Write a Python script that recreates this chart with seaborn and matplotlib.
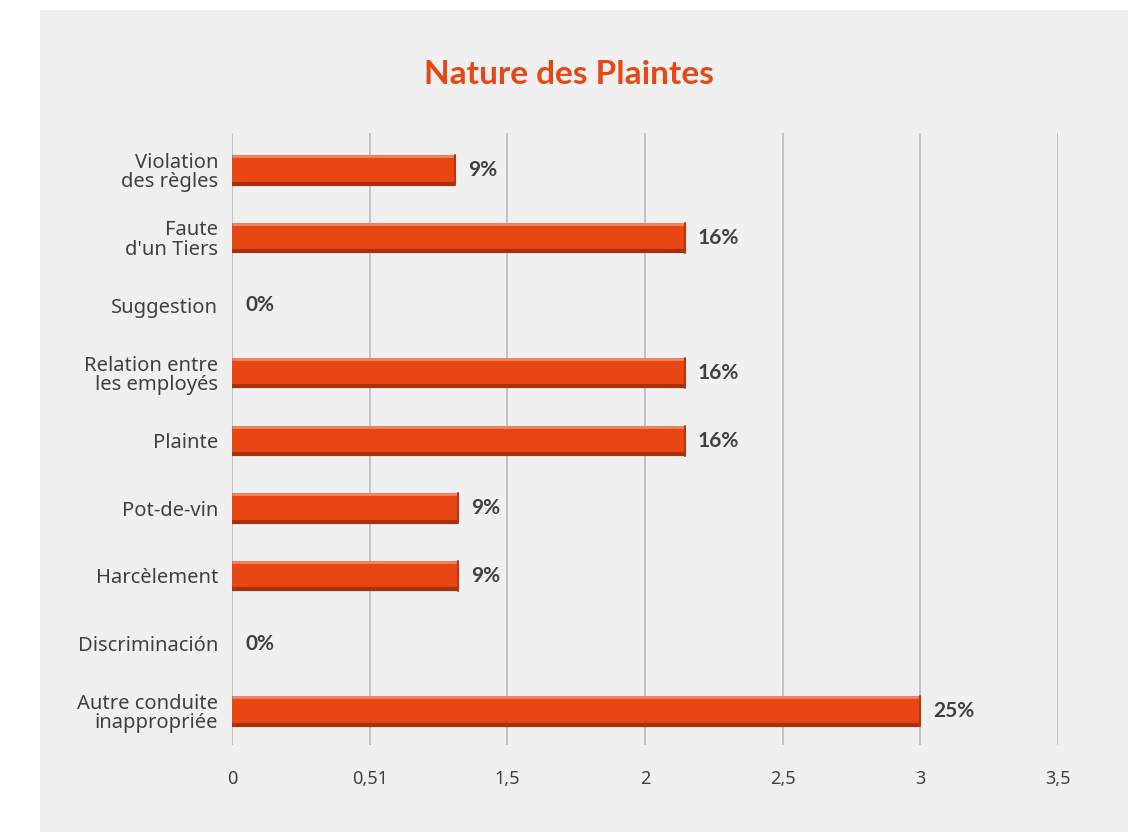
import seaborn as sns
from matplotlib import pyplot as plt
from matplotlib.patches import Rectangle
import pandas as pd

categories = ['Violation\ndes règles', "Faute\nd'un Tiers", 'Suggestion',
              'Relation entre\nles employés', 'Plainte', 'Pot-de-vin',
              'Harcèlement', 'Discriminación', 'Autre conduite\ninappropriée']
values = [0.81, 1.645, 0, 1.645, 1.645, 0.82, 0.82, 0, 2.5]
pct_labels = ['9%', '16%', '0%', '16%', '16%', '9%', '9%', '0%', '25%']
tick_pos = [0, 0.5, 1, 1.5, 2, 2.5, 3]
tick_labels = ['0', '0,51', '1,5', '2', '2,5', '3', '3,5']

ORANGE = '#e84714'
TEXT = '#404040'
BOLD_FONT = ['Lato', 'DejaVu Sans']

sns.set_style('white')
plt.rcParams['font.family'] = ['Noto Sans', 'DejaVu Sans']

df = pd.DataFrame({'cat': categories, 'val': values})

fig = plt.figure(figsize=(11.38, 8.32), dpi=100)
fig.patch.set_facecolor('white')
bg = Rectangle((40 / 1138, 0), 1088 / 1138, 822 / 832, transform=fig.transFigure,
               facecolor='#f0f0f0', edgecolor='none', zorder=-10)
fig.add_artist(bg)

ax = fig.add_axes([232 / 1138, 1 - 745 / 832, (1058 - 232) / 1138, (745 - 133) / 832])
ax.set_facecolor('none')

sns.barplot(data=df, x='val', y='cat', orient='h', color=ORANGE,
            width=0.44, saturation=1, linewidth=0, ax=ax, zorder=3)

# bevel: light top edge, dark bottom edge
for p in ax.patches:
    x0, y0 = p.get_x(), p.get_y()
    w, h = p.get_width(), p.get_height()
    if w <= 0:
        continue
    ax.plot([x0, x0 + w], [y0 + h * 0.03, y0 + h * 0.03], color='#ef8666', lw=2,
            zorder=4, solid_capstyle='butt')
    ax.plot([x0, x0 + w], [y0 + h * 0.95, y0 + h * 0.95], color='#a8300c', lw=3,
            zorder=4, solid_capstyle='butt')
    ax.plot([x0 + w, x0 + w], [y0, y0 + h], color='#b8360e', lw=1.5, zorder=4)

for i, (v, lab) in enumerate(zip(values, pct_labels)):
    ax.annotate(lab, (v, i), xytext=(13, 0), textcoords='offset pixels',
                va='center', ha='left', fontsize=15, fontweight='bold',
                family=BOLD_FONT, color=TEXT, annotation_clip=False)

ax.set_xlim(0, 3)
ax.set_ylim(8.5, -0.55)
ax.set_xticks(tick_pos)
ax.set_xticklabels(tick_labels)
ax.xaxis.grid(True, color='#b4b8b8', lw=1.1, zorder=0)
ax.set_axisbelow(True)
for s in ax.spines.values():
    s.set_visible(False)
ax.tick_params(axis='x', length=0, pad=18, labelsize=13, labelcolor=TEXT)
ax.tick_params(axis='y', length=0, pad=10, labelsize=14.5, labelcolor=TEXT)
for t in ax.get_yticklabels():
    t.set_linespacing(0.95)
ax.set_xlabel('')
ax.set_ylabel('')

fig.text(0.5, 1 - 75 / 832, 'Nature des Plaintes', ha='center', va='center',
         fontsize=24, fontweight='bold', family=BOLD_FONT, color=ORANGE)

fig.savefig('out.png', dpi=100, facecolor=fig.get_facecolor())
